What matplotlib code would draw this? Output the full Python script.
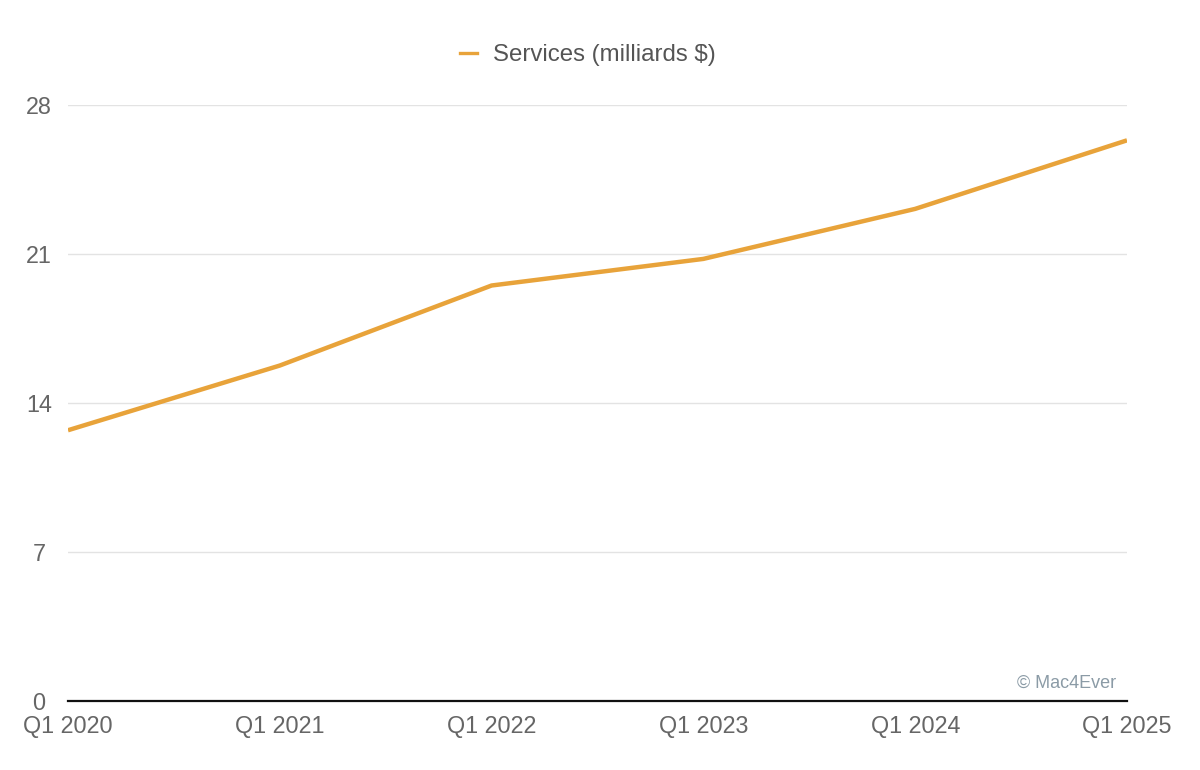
import matplotlib.pyplot as plt
from matplotlib.lines import Line2D

quarters = ['Q1 2020', 'Q1 2021', 'Q1 2022', 'Q1 2023', 'Q1 2024', 'Q1 2025']
services = [12.72, 15.76, 19.52, 20.77, 23.12, 26.34]
yticks = [0, 7, 14, 21, 28]

plt.rcParams['font.family'] = ['Liberation Sans', 'DejaVu Sans']

line_color = '#e8a33a'
text_color = '#666666'

fig = plt.figure(figsize=(12, 7.7), dpi=100)
ax = fig.add_axes([68 / 1200, 69 / 770, (1127 - 68) / 1200, (701 - 105) / 770])

x = list(range(len(quarters)))
ax.plot(x, services, color=line_color, linewidth=3.2, solid_capstyle='butt')

ax.set_xlim(0, len(quarters) - 1)
ax.set_ylim(0, 28)
ax.set_yticks(yticks)
ax.set_yticklabels([str(t) for t in yticks])
ax.set_xticks(x)
ax.set_xticklabels(quarters)

ax.grid(axis='y', color='#e3e3e3', linewidth=1)
ax.set_axisbelow(True)
for side in ['top', 'right', 'left']:
    ax.spines[side].set_visible(False)
ax.spines['bottom'].set_color('#111111')
ax.spines['bottom'].set_linewidth(1.6)

ax.tick_params(axis='both', length=0, labelsize=16.8, labelcolor=text_color)
ax.tick_params(axis='y', pad=21)
ax.tick_params(axis='x', pad=10)
for lbl in ax.get_yticklabels():
    lbl.set_horizontalalignment('center')

handle = Line2D([], [], color=line_color, linewidth=2.4)
fig.legend([handle], ['Services (milliards $)'], loc='center', bbox_to_anchor=(0.49, 1 - 55 / 770),
           frameon=False, fontsize=17.3, labelcolor='#555555', handlelength=0.7, handletextpad=0.7)

ax.text(0.99, 0.015, '© Mac4Ever', transform=ax.transAxes, ha='right', va='bottom',
        fontsize=13, color='#8b9ba6')

fig.savefig('out.png', dpi=100, facecolor='white')
